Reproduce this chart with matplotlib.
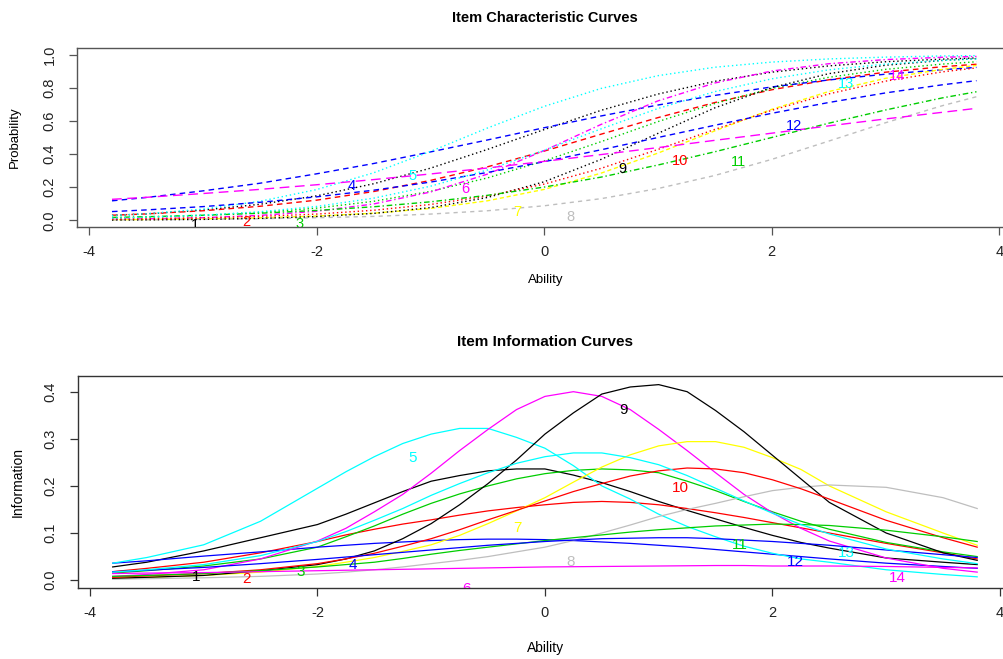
import numpy as np
import matplotlib.pyplot as plt

plt.rcParams['font.family'] = ['Liberation Sans', 'DejaVu Sans']

# ability grid for the characteristic curves
theta = [-3.8, -3.5, -3.0, -2.5, -2.0, -1.5, -1.0, -0.5, 0.0,
         0.5, 1.0, 1.5, 2.0, 2.5, 3.0, 3.5, 3.8]

# finer grid around the middle for the information curves
theta_info = [-3.8, -3.5, -3.0, -2.5, -2.0, -1.75, -1.5, -1.25, -1.0, -0.75, -0.5, -0.25, 0.0,
              0.25, 0.5, 0.75, 1.0, 1.25, 1.5, 1.75, 2.0, 2.25, 2.5, 3.0, 3.5, 3.8]

# item characteristic curves, P(correct) per item
icc_01 = [0.030, 0.039, 0.062, 0.097, 0.148, 0.221, 0.315, 0.428, 0.548, 0.664, 0.762, 0.839, 0.894, 0.932, 0.957, 0.973, 0.980]
icc_02 = [0.031, 0.039, 0.058, 0.085, 0.122, 0.174, 0.241, 0.323, 0.418, 0.520, 0.620, 0.711, 0.788, 0.848, 0.894, 0.927, 0.942]
icc_03 = [0.014, 0.018, 0.030, 0.047, 0.074, 0.115, 0.175, 0.256, 0.359, 0.475, 0.596, 0.705, 0.796, 0.863, 0.911, 0.943, 0.957]
icc_04 = [0.118, 0.138, 0.178, 0.224, 0.281, 0.343, 0.413, 0.485, 0.559, 0.630, 0.696, 0.754, 0.805, 0.847, 0.882, 0.909, 0.923]
icc_05 = [0.029, 0.040, 0.068, 0.115, 0.186, 0.287, 0.416, 0.557, 0.688, 0.796, 0.873, 0.924, 0.955, 0.974, 0.985, 0.992, 0.994]
icc_06 = [0.006, 0.009, 0.016, 0.030, 0.055, 0.099, 0.171, 0.279, 0.421, 0.579, 0.721, 0.829, 0.901, 0.945, 0.970, 0.984, 0.989]
icc_07 = [0.004, 0.005, 0.009, 0.015, 0.026, 0.043, 0.072, 0.118, 0.187, 0.285, 0.406, 0.540, 0.670, 0.777, 0.857, 0.911, 0.935]
icc_08 = [0.003, 0.004, 0.006, 0.010, 0.016, 0.024, 0.038, 0.058, 0.088, 0.131, 0.192, 0.271, 0.368, 0.478, 0.589, 0.692, 0.746]
icc_09 = [0.002, 0.003, 0.006, 0.012, 0.023, 0.042, 0.077, 0.138, 0.233, 0.368, 0.525, 0.679, 0.801, 0.885, 0.936, 0.965, 0.976]
icc_10 = [0.007, 0.009, 0.015, 0.024, 0.038, 0.061, 0.096, 0.147, 0.219, 0.314, 0.428, 0.549, 0.664, 0.763, 0.840, 0.896, 0.920]
icc_11 = [0.018, 0.022, 0.031, 0.043, 0.060, 0.082, 0.112, 0.151, 0.201, 0.261, 0.334, 0.414, 0.500, 0.586, 0.666, 0.739, 0.776]
icc_12 = [0.053, 0.063, 0.083, 0.109, 0.142, 0.182, 0.231, 0.289, 0.354, 0.426, 0.500, 0.574, 0.646, 0.711, 0.769, 0.818, 0.843]
icc_13 = [0.014, 0.019, 0.031, 0.052, 0.084, 0.134, 0.206, 0.304, 0.423, 0.552, 0.675, 0.777, 0.854, 0.908, 0.943, 0.965, 0.974]
icc_14 = [0.127, 0.139, 0.162, 0.187, 0.215, 0.246, 0.280, 0.316, 0.356, 0.397, 0.439, 0.483, 0.526, 0.570, 0.612, 0.652, 0.676]

# item information curves (on theta_info)
iic_01 = [0.028, 0.038, 0.062, 0.090, 0.118, 0.140, 0.164, 0.188, 0.210, 0.222, 0.232, 0.236, 0.236,
          0.223, 0.207, 0.188, 0.167, 0.148, 0.130, 0.112, 0.095, 0.080, 0.068, 0.047, 0.038, 0.033]
iic_02 = [0.018, 0.025, 0.038, 0.058, 0.082, 0.096, 0.108, 0.119, 0.128, 0.138, 0.147, 0.154, 0.160,
          0.165, 0.167, 0.165, 0.160, 0.152, 0.143, 0.133, 0.122, 0.111, 0.100, 0.078, 0.058, 0.045]
iic_03 = [0.015, 0.020, 0.030, 0.045, 0.070, 0.092, 0.115, 0.140, 0.163, 0.183, 0.200, 0.215, 0.226,
          0.233, 0.236, 0.234, 0.228, 0.210, 0.190, 0.167, 0.145, 0.125, 0.108, 0.080, 0.060, 0.050]
iic_04 = [0.036, 0.041, 0.051, 0.060, 0.070, 0.074, 0.078, 0.081, 0.084, 0.086, 0.087, 0.087, 0.086,
          0.084, 0.081, 0.078, 0.074, 0.070, 0.065, 0.060, 0.055, 0.050, 0.045, 0.036, 0.029, 0.025]
iic_05 = [0.036, 0.048, 0.075, 0.125, 0.195, 0.230, 0.262, 0.290, 0.310, 0.322, 0.322, 0.303, 0.280,
          0.243, 0.200, 0.172, 0.140, 0.114, 0.092, 0.072, 0.057, 0.045, 0.038, 0.022, 0.012, 0.007]
iic_06 = [0.008, 0.012, 0.022, 0.045, 0.083, 0.110, 0.145, 0.182, 0.227, 0.275, 0.320, 0.362, 0.390,
          0.400, 0.390, 0.362, 0.320, 0.275, 0.228, 0.182, 0.143, 0.110, 0.083, 0.047, 0.025, 0.017]
iic_07 = [0.004, 0.006, 0.010, 0.017, 0.029, 0.038, 0.048, 0.061, 0.075, 0.095, 0.120, 0.147, 0.175,
          0.208, 0.240, 0.266, 0.285, 0.294, 0.294, 0.282, 0.260, 0.235, 0.200, 0.145, 0.100, 0.074]
iic_08 = [0.002, 0.003, 0.005, 0.008, 0.013, 0.017, 0.022, 0.028, 0.035, 0.042, 0.050, 0.060, 0.070,
          0.084, 0.100, 0.117, 0.135, 0.150, 0.163, 0.177, 0.190, 0.197, 0.202, 0.197, 0.175, 0.152]
iic_09 = [0.004, 0.006, 0.010, 0.020, 0.033, 0.045, 0.062, 0.088, 0.120, 0.160, 0.205, 0.255, 0.310,
          0.355, 0.395, 0.410, 0.415, 0.400, 0.360, 0.315, 0.265, 0.215, 0.165, 0.100, 0.058, 0.042]
iic_10 = [0.006, 0.009, 0.014, 0.022, 0.035, 0.045, 0.057, 0.072, 0.088, 0.107, 0.128, 0.148, 0.168,
          0.188, 0.205, 0.221, 0.232, 0.238, 0.236, 0.228, 0.213, 0.194, 0.172, 0.127, 0.090, 0.070]
iic_11 = [0.008, 0.010, 0.014, 0.020, 0.028, 0.033, 0.038, 0.046, 0.055, 0.063, 0.070, 0.077, 0.084,
          0.090, 0.096, 0.102, 0.107, 0.111, 0.115, 0.117, 0.119, 0.118, 0.116, 0.106, 0.092, 0.082]
iic_12 = [0.018, 0.021, 0.027, 0.035, 0.044, 0.049, 0.054, 0.059, 0.064, 0.069, 0.074, 0.078, 0.082,
          0.085, 0.088, 0.089, 0.090, 0.090, 0.088, 0.085, 0.082, 0.078, 0.074, 0.064, 0.054, 0.048]
iic_13 = [0.017, 0.022, 0.033, 0.052, 0.082, 0.103, 0.127, 0.152, 0.180, 0.205, 0.228, 0.248, 0.262,
          0.270, 0.270, 0.260, 0.245, 0.222, 0.195, 0.168, 0.142, 0.118, 0.098, 0.066, 0.045, 0.035]
iic_14 = [0.014, 0.015, 0.016, 0.018, 0.020, 0.021, 0.022, 0.023, 0.024, 0.025, 0.026, 0.027, 0.028,
          0.0285, 0.029, 0.0295, 0.030, 0.0305, 0.031, 0.031, 0.030, 0.030, 0.030, 0.029, 0.027, 0.026]

item_names = [str(i) for i in range(1, 15)]

# where the item numbers sit on each panel
label_x = [-3.07, -2.62, -2.15, -1.69, -1.16, -0.69, -0.24, 0.23, 0.69, 1.19, 1.71, 2.20, 2.65, 3.10]
label_y_icc = [-0.03, -0.01, -0.02, 0.21, 0.27, 0.19, 0.05, 0.02, 0.31, 0.36, 0.35, 0.57, 0.82, 0.87]
label_y_iic = [0.006, 0.002, 0.017, 0.032, 0.259, -0.018, 0.110, 0.038, 0.361, 0.195, 0.074, 0.038, 0.057, 0.004]

icc_curves = [icc_01, icc_02, icc_03, icc_04, icc_05, icc_06, icc_07,
              icc_08, icc_09, icc_10, icc_11, icc_12, icc_13, icc_14]
iic_curves = [iic_01, iic_02, iic_03, iic_04, iic_05, iic_06, iic_07,
              iic_08, iic_09, iic_10, iic_11, iic_12, iic_13, iic_14]

# R's default palette, recycled over the 14 items
palette = ["#000000", "#FF0000", "#00CD00", "#0000FF",
           "#00FFFF", "#FF00FF", "#FFFF00", "#BEBEBE"]
colours = [palette[i % 8] for i in range(14)]
dashes = [(1, 2), (4, 3), (1, 2), (4, 3), (1, 2), (4, 2, 1, 2), (3, 2),
          (3, 3), (1, 2), (1, 2), (4, 2, 1, 2), (4, 3), (1, 2), (7, 4)]

W, H = 1004, 659
fig = plt.figure(figsize=(W / 100, H / 100), dpi=100)

x0 = 77.3
xw = 8.21 * 113.75
ax1 = fig.add_axes([x0 / W, 1 - 227 / H, xw / W, 179 / H])
ax2 = fig.add_axes([(x0 + 0.7) / W, 1 - 588 / H, xw / W, 212 / H])

for i in range(14):
    ax1.plot(theta, icc_curves[i], color=colours[i], lw=1.0, dashes=dashes[i])
    ax1.text(label_x[i], label_y_icc[i], item_names[i], color=colours[i],
             fontsize=10.5, ha='center', va='center', clip_on=True)

for i in range(14):
    ax2.plot(theta_info, iic_curves[i], color=colours[i], lw=0.9)
    ax2.text(label_x[i], label_y_iic[i], item_names[i], color=colours[i],
             fontsize=11, ha='center', va='center', clip_on=True)

ax1.set_ylim(-0.04, 1.04)
ax1.set_yticks([0.0, 0.2, 0.4, 0.6, 0.8, 1.0])
ax1.set_yticklabels(["0.0", "0.2", "0.4", "0.6", "0.8", "1.0"])
ax2.set_ylim(-0.0167, 0.4333)
ax2.set_yticks([0.0, 0.1, 0.2, 0.3, 0.4])
ax2.set_yticklabels(["0.0", "0.1", "0.2", "0.3", "0.4"])

for ax, edge in ((ax1, "#555555"), (ax2, "#333333")):
    ax.set_xlim(-4.105, 4.105)
    ax.set_xticks([-4, -2, 0, 2, 4])
    ax.set_xticklabels(["-4", "-2", "0", "2", "4"])
    for s in ax.spines.values():
        s.set_color(edge)
        s.set_linewidth(1.0)
    ax.tick_params(direction='out', length=6, width=0.9, colors=edge,
                   labelcolor="#222222", labelsize=10.5)
    ax.tick_params(axis='x', pad=7)
    ax.tick_params(axis='y', pad=9)
    for lab in ax.get_yticklabels():
        lab.set_rotation(90)
        lab.set_va('center')
        lab.set_ha('right')

fig.text(545 / W, 1 - 18 / H, "Item Characteristic Curves", ha='center',
         va='center', fontsize=10.5, fontweight='bold')
fig.text(545 / W, 1 - 342 / H, "Item Information Curves", ha='center',
         va='center', fontsize=11, fontweight='bold')
fig.text(546 / W, 1 - 280 / H, "Ability", ha='center', va='center', fontsize=9.5)
fig.text(546 / W, 1 - 648 / H, "Ability", ha='center', va='center', fontsize=10)
fig.text(15 / W, 1 - 137 / H, "Probability", rotation=90, ha='center',
         va='center', fontsize=9.5)
fig.text(18 / W, 1 - 482 / H, "Information", rotation=90, ha='center',
         va='center', fontsize=10)

fig.savefig("out.png", dpi=100)
